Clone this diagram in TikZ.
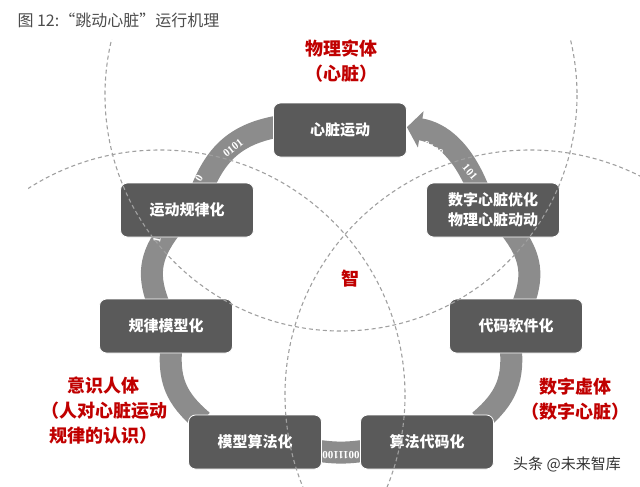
\documentclass[tikz,border=0pt]{standalone}
\usepackage{fontspec}
\usepackage{xcolor}
\usetikzlibrary{arrows.meta,backgrounds}
\newfontfamily\cjk{Noto Sans CJK SC}
\newfontfamily\binfont{Liberation Serif}
\definecolor{boxgray}{HTML}{5A5A5A}
\definecolor{bandgray}{HTML}{8C8C8C}
\definecolor{dashgray}{HTML}{A0A0A0}
\definecolor{heartred}{HTML}{C00000}

\begin{document}
\begin{tikzpicture}[x=1pt, y=-1pt,
    stage/.style={draw=white, line width=0.8pt, fill=boxgray, rounded corners=7pt, minimum width=133pt, minimum height=54pt, align=center, text=white, font=\cjk\bfseries\fontsize{15}{20}\selectfont},
    flow/.style={draw=bandgray, line width=22pt, shorten >=-10pt, shorten <=-10pt},
    bits/.style={text=white, inner sep=0pt, font=\binfont\bfseries\fontsize{11}{11}\selectfont},
    tag/.style={text=heartred, align=center, font=\cjk\bfseries\fontsize{18}{25}\selectfont},
    venn/.style={draw=dashgray, line width=1.1pt, dash pattern=on 4pt off 3pt},
]
\useasboundingbox (0,0) rectangle (640,487);

\node[anchor=west, text=black!70, font=\cjk\fontsize{16}{16}\selectfont] (title) at (14,20) {图 12:“跳动心脏”运行机理};

\node[stage] (heart) at (340,130) {心脏运动};
\node[stage] (rule) at (187,210) {运动规律化};
\node[stage] (model) at (166,326) {规律模型化};
\node[stage] (algo) at (255,442) {模型算法化};
\node[stage] (code) at (427,442) {算法代码化};
\node[stage] (soft) at (516,326) {代码软件化};
\node[stage] (twin) at (493,210) {数字心脏优化\\物理心脏动动};

\begin{scope}[on background layer]
\draw[flow] (heart) to[bend right=30] (rule);
\draw[flow] (rule) to[bend right=30] (model);
\draw[flow] (model) to[bend right=28] (algo);
\draw[flow] (algo) to[bend right=8] (code);
\draw[flow] (code) to[bend right=28] (soft);
\draw[flow] (soft) to[bend right=30] (twin);
\draw[flow, shorten >=0pt, -{Triangle[width=36pt,length=14pt]}] (twin) to[bend right=30] (heart);
\node[bits, rotate=38] (b1) at (233,148) {0101};
\node[bits, rotate=58] (b2) at (199,178) {0};
\node[bits, rotate=-32] (b3) at (433,149) {0100};
\node[bits, rotate=-50] (b4) at (470,172) {101};
\node[bits, rotate=78] (b5) at (157,240) {1};
\node[bits, rotate=180] (b6) at (341,455) {0011100};
\node[bits, rotate=138] (b7) at (467,402) {1111};
\end{scope}

% three overlapping fields
\begin{scope}
\clip (28,40) rectangle (640,487);
\draw[venn] (341,95) circle[radius=236];
\draw[venn] (160,395) circle[radius=245];
\draw[venn] (530,395) circle[radius=245];
\end{scope}

\node[tag] (body) at (341,61) {物理实体\\（心脏）};
\node[tag] (mind) at (104,411) {意识人体\\（人对心脏运动\\规律的认识）};
\node[tag] (digit) at (575,399) {数字虚体\\（数字心脏）};
\node[tag] (wisdom) at (350,279) {智};

\node[text=black!80, font=\cjk\fontsize{15}{15}\selectfont] (mark) at (567,464) {头条 @未来智库};

\end{tikzpicture}
\end{document}
